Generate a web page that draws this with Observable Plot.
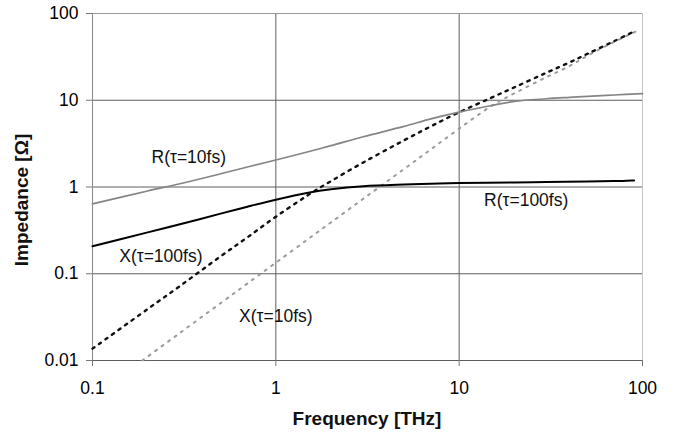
<!DOCTYPE html>
<html>
<head>
<meta charset="utf-8">
<script src="https://cdn.jsdelivr.net/npm/d3@7"></script>
<script src="https://cdn.jsdelivr.net/npm/@observablehq/plot@0.6"></script>
<style>
  html, body { margin: 0; padding: 0; background: #fff; }
</style>
</head>
<body>
<div id="chart"></div>
<script>
// Tick values
const xTicks = [0.1, 1, 10, 100];
const yTicks = [0.01, 0.1, 1, 10, 100];

// R(τ=10fs) – grey solid
const fR10 = [0.1, 0.2, 0.3, 0.5, 0.7, 1, 1.5, 2, 3, 5, 7, 10, 15, 20, 30, 40, 50, 70, 100];
const R10  = [0.64, 0.90, 1.09, 1.42, 1.70, 2.05, 2.55, 3.0, 3.8, 5.0, 6.1, 7.3, 8.7, 9.7, 10.4, 10.8, 11.1, 11.5, 11.9];

// R(τ=100fs) – black solid
const fR100 = [0.1, 0.2, 0.3, 0.5, 0.7, 1, 1.5, 2, 3, 5, 7, 10, 20, 30, 50, 70, 90];
const R100  = [0.208, 0.300, 0.372, 0.493, 0.593, 0.714, 0.857, 0.94, 1.02, 1.068, 1.09, 1.11, 1.13, 1.14, 1.16, 1.17, 1.19];

// X(τ=100fs) – black dotted
const fX100 = [0.1, 0.2, 0.3, 0.5, 0.7, 1, 1.5, 2, 3, 5, 7, 10, 15, 20, 30, 40, 50, 70, 92];
const X100  = [0.0137, 0.0392, 0.0723, 0.159, 0.263, 0.454, 0.807, 1.17, 1.92, 3.45, 5.0, 7.27, 10.7, 14.1, 20.8, 27.3, 34.2, 48, 63.5];

// X(τ=10fs) – grey dotted
const fX10 = [0.187, 0.3, 0.5, 0.7, 1, 1.5, 2, 3, 5, 7, 10, 15, 20, 30, 40, 50, 70, 92];
const X10  = [0.0100, 0.0208, 0.0459, 0.0772, 0.134, 0.251, 0.391, 0.732, 1.61, 2.71, 4.71, 8.6, 12.0, 18.5, 24.8, 32.5, 47, 62];

// Curve annotations
const labelText = ["R(τ=10fs)", "R(τ=100fs)", "X(τ=100fs)", "X(τ=10fs)"];
const labelF    = [0.335, 23.2, 0.236, 1.0];
const labelV    = [2.19, 0.70, 0.157, 0.032];

const rows = (f, v) => f.map((x, i) => ({f: x, v: v[i]}));
const labels = labelText.map((t, i) => ({t, f: labelF[i], v: labelV[i]}));
const fmt = d => String(d);

const chart = Plot.plot({
  width: 678,
  height: 436,
  marginLeft: 92,
  marginRight: 36,
  marginTop: 13,
  marginBottom: 76,
  style: {
    fontFamily: "'Liberation Sans', Arial, Helvetica, sans-serif",
    fontSize: "17.5px",
    color: "#000",
    background: "#fff"
  },
  x: {type: "log", domain: [0.1, 100]},
  y: {type: "log", domain: [0.01, 100]},
  marks: [
    Plot.gridX(xTicks, {stroke: "#5e5e5e", strokeOpacity: 1, strokeWidth: 1}),
    Plot.gridY(yTicks, {stroke: "#5e5e5e", strokeOpacity: 1, strokeWidth: 1}),
    Plot.ruleY([100], {stroke: "#9a9a9a"}),
    Plot.ruleX([100], {stroke: "#c4c4c4"}),
    Plot.ruleX([0.1], {stroke: "#8a8a8a"}),
    Plot.axisX(xTicks, {tickSize: 6, tickPadding: 15, tickFormat: fmt, label: null, stroke: "#777"}),
    Plot.axisY(yTicks, {tickSize: 6, tickPadding: 8, tickFormat: fmt, label: null, stroke: "#777"}),
    Plot.line(rows(fX10, X10), {x: "f", y: "v", stroke: "#9c9c9c", strokeWidth: 2, strokeDasharray: "2,6", curve: "catmull-rom"}),
    Plot.line(rows(fX100, X100), {x: "f", y: "v", stroke: "#111", strokeWidth: 2.4, strokeDasharray: "2.5,5.5", curve: "catmull-rom"}),
    Plot.line(rows(fR10, R10), {x: "f", y: "v", stroke: "#858585", strokeWidth: 1.7, curve: "catmull-rom"}),
    Plot.line(rows(fR100, R100), {x: "f", y: "v", stroke: "#000", strokeWidth: 2, curve: "catmull-rom"}),
    Plot.text(labels, {x: "f", y: "v", text: "t", fontSize: 17.5, fill: "#111"})
  ]
});

const svg = d3.select(chart);
svg.append("text")
  .attr("x", 367).attr("y", 425)
  .attr("text-anchor", "middle")
  .attr("font-weight", "bold")
  .attr("font-size", 19)
  .attr("fill", "#111")
  .text("Frequency [THz]");
svg.append("text")
  .attr("transform", "translate(27.5,200) rotate(-90)")
  .attr("text-anchor", "middle")
  .attr("font-weight", "bold")
  .attr("font-size", 19)
  .attr("fill", "#111")
  .text("Impedance [Ω]");

document.getElementById("chart").appendChild(chart);
</script>
</body>
</html>
